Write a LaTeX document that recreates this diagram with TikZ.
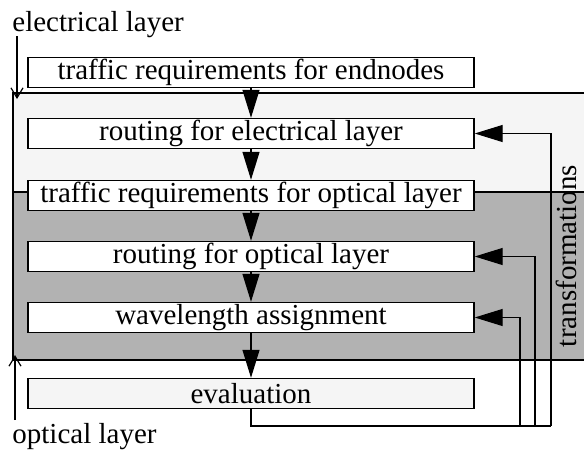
\documentclass[tikz,border=0pt]{standalone}
\usepackage{fontspec}
\setmainfont{Liberation Serif}
\usetikzlibrary{arrows.meta}
\begin{document}
\begin{tikzpicture}[x=0.5pt,y=-0.5pt,
  font=\fontsize{14.5pt}{16pt}\selectfont,
  stepbox/.style={draw, line width=0.7pt, fill=white, minimum width=223pt, minimum height=15pt, inner sep=0pt},
  bigarrow/.style={line width=0.6pt, -{Triangle[length=14pt,width=8.5pt]}},
  layerarrow/.style={line width=0.6pt, -{Straight Barb[length=5pt,width=6pt]}},
  regionline/.style={line width=0.6pt}]
\useasboundingbox (0,0) rectangle (584,450);
% regions
\fill[black!4] (13,93) rectangle (590,192);
\fill[black!30] (13,192) rectangle (590,360);
\draw[regionline] (590,93) -- (13,93) -- (13,360) -- (590,360);
\draw[regionline] (13,192) -- (590,192);
% boxes
\node[stepbox] (b1) at (251,72.5) {traffic requirements for endnodes};
\node[stepbox] (b2) at (251,133.5) {routing for electrical layer};
\node[stepbox] (b3) at (251,195.5) {traffic requirements for optical layer};
\node[stepbox] (b4) at (251,256.5) {routing for optical layer};
\node[stepbox] (b5) at (251,317.5) {wavelength assignment};
\node[stepbox, fill=black!4] (ev) at (251,393.5) {evaluation};
% flow arrows
\draw[bigarrow] (b1.south) -- (b2.north);
\draw[bigarrow] (b2.south) -- (b3.north);
\draw[bigarrow] (b3.south) -- (b4.north);
\draw[bigarrow] (b4.south) -- (b5.north);
\draw[bigarrow] (b5.south) -- (ev.north);
% feedback
\coordinate (c1) at (551,426);
\coordinate (c2) at (535,426);
\coordinate (c3) at (520,426);
\draw[line width=0.6pt] (ev.south) |- (c1);
\draw[bigarrow] (c1) |- (b2.east);
\draw[bigarrow] (c2) |- (b4.east);
\draw[bigarrow] (c3) |- (b5.east);
\node[rotate=90] (tr) at (566,256) {transformations};
% layer labels
\node[anchor=base west, inner sep=0pt] (el) at (12,31) {electrical layer};
\coordinate (ea) at (17,36);
\coordinate (eb) at (17,99);
\draw[layerarrow] (ea) -- (eb);
\node[anchor=base west, inner sep=0pt] (ol) at (12,443) {optical layer};
\coordinate (oa) at (15,420);
\coordinate (ob) at (15,355);
\draw[layerarrow] (oa) -- (ob);
\end{tikzpicture}
\end{document}
